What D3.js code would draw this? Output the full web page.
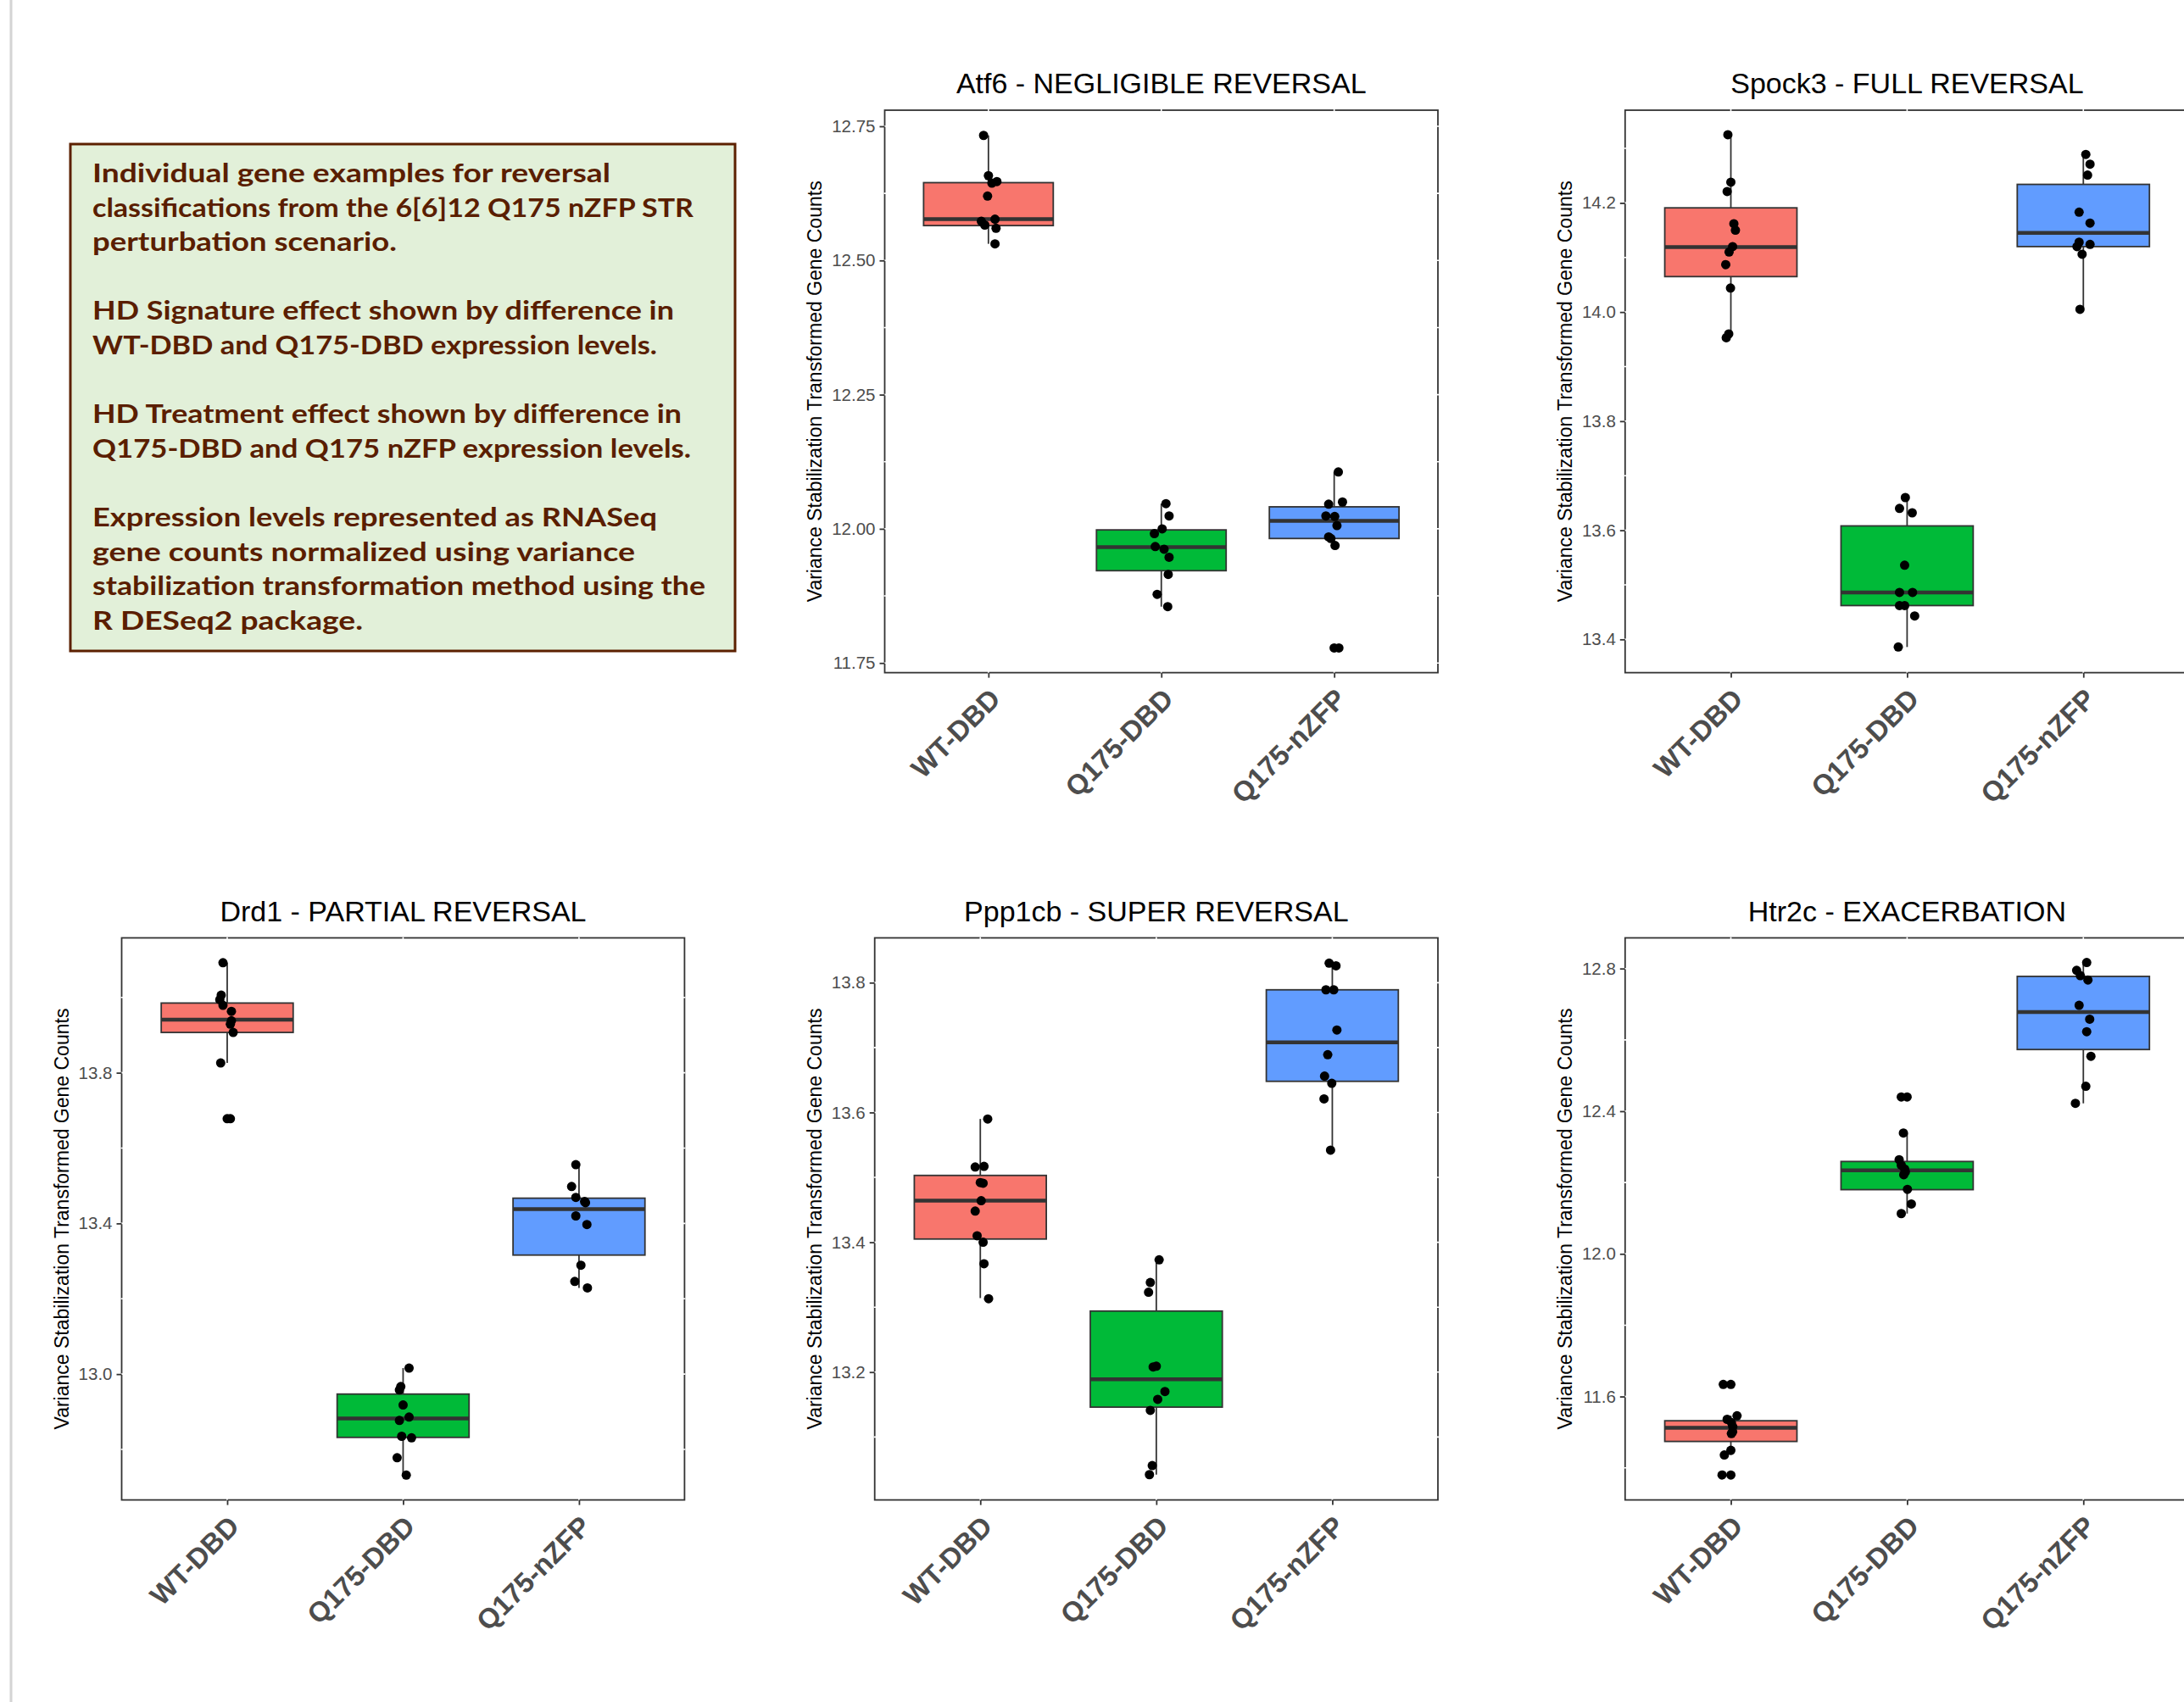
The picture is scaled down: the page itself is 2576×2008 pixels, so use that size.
<!DOCTYPE html>
<html>
<head>
<meta charset="utf-8">
<script src="https://cdn.jsdelivr.net/npm/d3@7"></script>
<style>
  body { margin: 0; background: #fff; }
  svg { display: block; }
</style>
</head>
<body>
<div id="chart"></div>
<script>
// groups and fill colours (ggplot default hue palette)
var groups = ["WT-DBD", "Q175-DBD", "Q175-nZFP"];
var fills = ["#F8766D", "#00BA38", "#619CFF"];
var yTitle = "Variance Stabilization Transformed Gene Counts";

var noteLines = [
  "Individual gene examples for reversal",
  "classifications from the 6[6]12 Q175 nZFP STR",
  "perturbation scenario.",
  "HD Signature effect shown by difference in",
  "WT-DBD and Q175-DBD expression levels.",
  "HD Treatment effect shown by difference in",
  "Q175-DBD and Q175 nZFP expression levels.",
  "Expression levels represented as RNASeq",
  "gene counts normalized using variance",
  "stabilization transformation method using the",
  "R DESeq2 package."
];

// ---- Atf6 ----
// box stats: [lower whisker, q1, median, q3, upper whisker]
var atf6Box = [[12.531, 12.565, 12.577, 12.645, 12.733], [11.855, 11.922, 11.966, 11.998, 12.047], [11.969, 11.982, 12.015, 12.041, 12.106]];
var atf6Points = [
  [12.733, 12.658, 12.644, 12.647, 12.620, 12.573, 12.566, 12.577, 12.560, 12.531],
  [12.047, 12.024, 12.000, 11.991, 11.967, 11.962, 11.947, 11.915, 11.878, 11.855],
  [12.106, 12.046, 12.050, 12.024, 12.023, 12.006, 11.985, 11.982, 11.969, 11.778]
];
var atf6Jitter = [
  [-0.028, 0, 0.02, 0.049, -0.005, -0.041, -0.021, 0.038, 0.044, 0.038],
  [0.027, 0.045, 0.005, -0.040, -0.035, 0.016, 0.045, 0.040, -0.024, 0.037],
  [0.024, -0.032, 0.048, -0.048, 0.003, 0.016, -0.032, -0.019, 0.005, 0.027]
];
var atf6Outliers = [[], [], [11.778]];

// ---- Spock3 ----
var spock3Box = [[13.953, 14.065, 14.119, 14.191, 14.325], [13.386, 13.462, 13.486, 13.608, 13.660], [14.005, 14.120, 14.145, 14.234, 14.289]];
var spock3Points = [
  [14.325, 14.238, 14.221, 14.162, 14.150, 14.120, 14.110, 14.087, 14.044, 13.960, 13.953],
  [13.660, 13.640, 13.632, 13.536, 13.486, 13.486, 13.462, 13.462, 13.443, 13.386],
  [14.289, 14.271, 14.251, 14.183, 14.163, 14.128, 14.120, 14.124, 14.106, 14.005]
];
var spock3Jitter = [
  [-0.017, 0, -0.021, 0.017, 0.026, 0.01, -0.01, -0.029, -0.002, -0.012, -0.026],
  [-0.01, -0.043, 0.029, -0.014, -0.043, 0.031, -0.043, -0.014, 0.043, -0.05],
  [0.014, 0.038, 0.024, -0.024, 0.038, -0.024, -0.036, 0.038, -0.007, -0.019]
];
var spock3Outliers = [[], [], []];

// ---- Drd1 ----
var drd1Box = [[13.826, 13.907, 13.941, 13.985, 14.092], [12.732, 12.832, 12.882, 12.947, 13.016], [13.229, 13.316, 13.438, 13.467, 13.556]];
var drd1Points = [
  [14.092, 14.006, 13.994, 13.979, 13.963, 13.938, 13.929, 13.907, 13.826, 13.678],
  [13.016, 12.967, 12.958, 12.918, 12.886, 12.877, 12.835, 12.831, 12.778, 12.732],
  [13.556, 13.498, 13.469, 13.458, 13.455, 13.420, 13.397, 13.289, 13.246, 13.229]
];
var drd1Jitter = [
  [-0.024, -0.034, -0.042, -0.024, 0.024, 0.024, 0.018, 0.034, -0.037, 0.018],
  [0.034, -0.013, -0.021, 0, 0.034, -0.021, -0.008, 0.048, -0.034, 0.018],
  [-0.018, -0.042, -0.018, 0.032, 0.037, -0.018, 0.045, 0.011, -0.024, 0.048]
];
var drd1Outliers = [[13.678], [], []];

// ---- Ppp1cb ----
var ppp1cbBox = [[13.314, 13.405, 13.464, 13.503, 13.590], [13.042, 13.146, 13.189, 13.294, 13.373], [13.542, 13.648, 13.708, 13.789, 13.830]];
var ppp1cbPoints = [
  [13.590, 13.516, 13.517, 13.492, 13.491, 13.464, 13.448, 13.410, 13.400, 13.367, 13.313],
  [13.373, 13.338, 13.323, 13.208, 13.209, 13.170, 13.158, 13.141, 13.056, 13.042],
  [13.830, 13.826, 13.789, 13.789, 13.727, 13.689, 13.656, 13.645, 13.621, 13.542]
];
var ppp1cbJitter = [
  [0.042, -0.029, 0.021, 0, 0.016, 0.005, -0.029, -0.018, 0.016, 0.021, 0.047],
  [0.016, -0.034, -0.044, -0.018, 0, 0.049, 0.008, -0.034, -0.023, -0.039],
  [-0.018, 0.021, -0.036, 0.008, 0.026, -0.026, -0.044, -0.003, -0.047, -0.01]
];
var ppp1cbOutliers = [[], [], []];

// ---- Htr2c ----
var htr2cBox = [[11.436, 11.474, 11.512, 11.532, 11.546], [12.113, 12.180, 12.234, 12.259, 12.339], [12.422, 12.573, 12.678, 12.778, 12.817]];
var htr2cPoints = [
  [11.634, 11.546, 11.536, 11.527, 11.515, 11.501, 11.496, 11.449, 11.436, 11.380],
  [12.440, 12.339, 12.264, 12.249, 12.238, 12.230, 12.222, 12.181, 12.140, 12.113],
  [12.817, 12.795, 12.780, 12.768, 12.697, 12.658, 12.623, 12.554, 12.470, 12.422]
];
var htr2cJitter = [
  [-0.043, 0.035, -0.021, 0.003, 0.011, 0.01, 0.003, 0, -0.037, -0.05],
  [-0.033, -0.021, -0.045, -0.033, -0.014, -0.01, -0.019, 0.002, 0.024, -0.033],
  [0.019, -0.038, -0.017, 0.026, -0.024, 0.036, 0.019, 0.043, 0.014, -0.045]
];
var htr2cOutliers = [[11.634, 11.380], [12.440], []];

// panel setup: title, y range, tick values
var panels = [
  { title: "Atf6 - NEGLIGIBLE REVERSAL", box: atf6Box, pts: atf6Points, jit: atf6Jitter, out: atf6Outliers,
    domain: [11.732, 12.780], ticks: [11.75, 12.0, 12.25, 12.5, 12.75], fmt: ".2f",
    x0: 1043.5, x1: 1696, y0: 130, y1: 793.6 },
  { title: "Spock3 - FULL REVERSAL", box: spock3Box, pts: spock3Points, jit: spock3Jitter, out: spock3Outliers,
    domain: [13.339, 14.370], ticks: [13.4, 13.6, 13.8, 14.0, 14.2], fmt: ".1f",
    x0: 1916.8, x1: 2582, y0: 130, y1: 793.6 },
  { title: "Drd1 - PARTIAL REVERSAL", box: drd1Box, pts: drd1Points, jit: drd1Jitter, out: drd1Outliers,
    domain: [12.666, 14.158], ticks: [13.0, 13.4, 13.8], fmt: ".1f",
    x0: 143.5, x1: 807.4, y0: 1106.5, y1: 1769.6 },
  { title: "Ppp1cb - SUPER REVERSAL", box: ppp1cbBox, pts: ppp1cbPoints, jit: ppp1cbJitter, out: ppp1cbOutliers,
    domain: [13.003, 13.869], ticks: [13.2, 13.4, 13.6, 13.8], fmt: ".1f",
    x0: 1031.7, x1: 1696, y0: 1106.5, y1: 1769.6 },
  { title: "Htr2c - EXACERBATION", box: htr2cBox, pts: htr2cPoints, jit: htr2cJitter, out: htr2cOutliers,
    domain: [11.310, 12.886], ticks: [11.6, 12.0, 12.4, 12.8], fmt: ".1f",
    x0: 1916.8, x1: 2582, y0: 1106.5, y1: 1769.6 }
];

var W = 2576, H = 2008;
var svg = d3.select("#chart").append("svg")
  .attr("width", W).attr("height", H)
  .style("font-family", "'Liberation Sans', Arial, sans-serif");

// thin grey rule at the left edge of the page
svg.append("line")
  .attr("x1", 13).attr("x2", 13).attr("y1", 0).attr("y2", H)
  .attr("stroke", "#d4d4d4").attr("stroke-width", 3);

// note box
var note = svg.append("g");
note.append("rect")
  .attr("x", 83).attr("y", 170).attr("width", 784).attr("height", 598)
  .attr("fill", "#E2F0D9").attr("stroke", "#5C2000").attr("stroke-width", 3);

var lineSlots = [0, 1, 2, 4, 5, 7, 8, 10, 11, 12, 13];
var lineWidths = [611, 709, 359, 686, 666, 695, 706, 666, 640, 723, 319];
note.selectAll("text.note")
  .data(noteLines)
  .enter()
  .append("text")
  .attr("class", "note")
  .attr("x", 109)
  .attr("y", (d, i) => 215 + 40.6 * lineSlots[i])
  .attr("textLength", (d, i) => lineWidths[i])
  .attr("lengthAdjust", "spacingAndGlyphs")
  .style("font-family", "Lato, 'Open Sans', sans-serif")
  .style("font-weight", "bold")
  .style("font-size", "31px")
  .attr("fill", "#5A1E00")
  .text(d => d);

panels.forEach(function(p) {
  var g = svg.append("g");

  var x = d3.scalePoint().domain(groups).range([p.x0, p.x1]).padding(0.6);
  var y = d3.scaleLinear().domain(p.domain).range([p.y1, p.y0]);
  var step = x.step();
  var boxW = step * 0.75;

  // panel background + border
  g.append("rect")
    .attr("x", p.x0).attr("y", p.y0)
    .attr("width", p.x1 - p.x0).attr("height", p.y1 - p.y0)
    .attr("fill", "#fff").attr("stroke", "#333333").attr("stroke-width", 1.8);

  // white grid lines (only show where they cut the border)
  var minor = [];
  for (var i = 0; i < p.ticks.length - 1; i++) minor.push((p.ticks[i] + p.ticks[i + 1]) / 2);
  var d0 = p.ticks[1] - p.ticks[0];
  minor.push(p.ticks[0] - d0 / 2, p.ticks[p.ticks.length - 1] + d0 / 2);
  minor = minor.filter(v => v > p.domain[0] && v < p.domain[1]);
  g.selectAll("line.hgrid")
    .data(p.ticks.concat(minor))
    .enter().append("line")
    .attr("x1", p.x0 - 1).attr("x2", p.x1 + 1)
    .attr("y1", d => y(d)).attr("y2", d => y(d))
    .attr("stroke", "#fff").attr("stroke-width", 1.6);
  g.selectAll("line.vgrid")
    .data(groups)
    .enter().append("line")
    .attr("x1", d => x(d)).attr("x2", d => x(d))
    .attr("y1", p.y0 - 1).attr("y2", p.y1 + 1)
    .attr("stroke", "#fff").attr("stroke-width", 1.6);

  // axes
  var yAxis = g.append("g")
    .attr("transform", `translate(${p.x0},0)`)
    .call(d3.axisLeft(y).tickValues(p.ticks).tickFormat(d3.format(p.fmt)).tickSize(6).tickPadding(5));
  yAxis.select(".domain").remove();
  yAxis.selectAll(".tick line").attr("stroke", "#333333").attr("stroke-width", 1.8);
  yAxis.selectAll(".tick text")
    .attr("fill", "#4d4d4d")
    .style("font-size", "20.5px")
    .style("font-family", "'Liberation Sans', Arial, sans-serif");

  var xAxis = g.append("g")
    .attr("transform", `translate(0,${p.y1})`)
    .call(d3.axisBottom(x).tickSize(6).tickFormat(""));
  xAxis.select(".domain").remove();
  xAxis.selectAll(".tick line").attr("stroke", "#333333").attr("stroke-width", 1.8);

  g.selectAll("text.xlab")
    .data(groups)
    .enter().append("text")
    .attr("class", "xlab")
    .attr("transform", d => `translate(${x(d) + 16},${p.y1 + 33}) rotate(-45)`)
    .attr("text-anchor", "end")
    .attr("fill", "#4d4d4d")
    .style("font-weight", "bold")
    .style("font-size", "33px")
    .text(d => d);

  // y axis title, placed left of the widest tick label
  var labW = d3.max(yAxis.selectAll(".tick text").nodes(), n => n.getBBox().width);
  g.append("text")
    .attr("transform", `translate(${p.x0 - 11 - labW - 20},${(p.y0 + p.y1) / 2}) rotate(-90)`)
    .attr("text-anchor", "middle")
    .attr("dy", "0.35em")
    .style("font-size", "23px")
    .attr("fill", "#000")
    .text(yTitle);

  // title
  g.append("text")
    .attr("x", (p.x0 + p.x1) / 2).attr("y", p.y0 - 20)
    .attr("text-anchor", "middle")
    .style("font-size", "34px")
    .attr("fill", "#000")
    .text(p.title);

  // boxplots
  groups.forEach(function(grp, gi) {
    var b = p.box[gi];
    var cx = x(grp);
    // whiskers
    g.append("line")
      .attr("x1", cx).attr("x2", cx).attr("y1", y(b[3])).attr("y2", y(b[4]))
      .attr("stroke", "#333333").attr("stroke-width", 1.8);
    g.append("line")
      .attr("x1", cx).attr("x2", cx).attr("y1", y(b[1])).attr("y2", y(b[0]))
      .attr("stroke", "#333333").attr("stroke-width", 1.8);
    g.append("rect")
      .attr("x", cx - boxW / 2).attr("width", boxW)
      .attr("y", y(b[3])).attr("height", y(b[1]) - y(b[3]))
      .attr("fill", fills[gi]).attr("stroke", "#333333").attr("stroke-width", 1.8);
    g.append("line")
      .attr("x1", cx - boxW / 2).attr("x2", cx + boxW / 2)
      .attr("y1", y(b[2])).attr("y2", y(b[2]))
      .attr("stroke", "#333333").attr("stroke-width", 4.5);
    // boxplot outliers sit on the group centre
    g.selectAll(null)
      .data(p.out[gi])
      .enter().append("circle")
      .attr("cx", cx).attr("cy", d => y(d)).attr("r", 5.5)
      .attr("fill", "#000");
    // jittered points
    g.selectAll(null)
      .data(p.pts[gi])
      .enter().append("circle")
      .attr("cx", (d, i) => cx + p.jit[gi][i] * step)
      .attr("cy", d => y(d))
      .attr("r", 5.5)
      .attr("fill", "#000");
  });
});
</script>
</body>
</html>
